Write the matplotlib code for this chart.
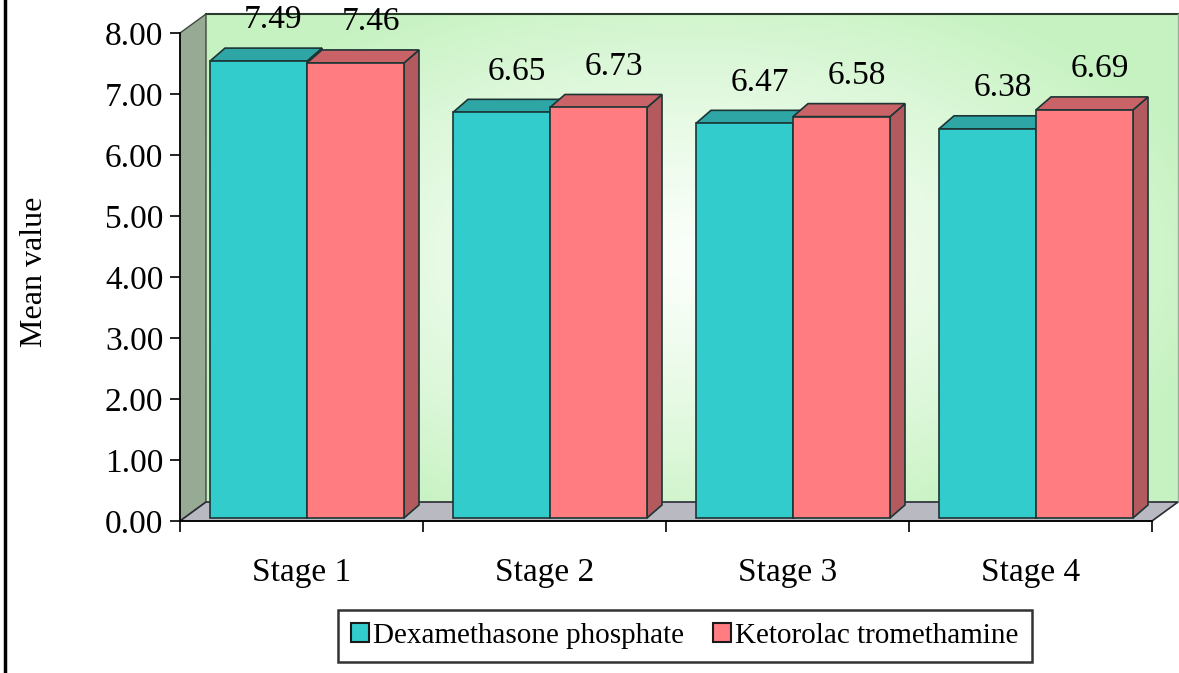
import numpy as np
import matplotlib.pyplot as plt
from matplotlib.patches import Polygon, Patch
from matplotlib.lines import Line2D

plt.rcParams['font.family'] = ['Liberation Serif', 'DejaVu Serif']

stages = ['Stage 1', 'Stage 2', 'Stage 3', 'Stage 4']
dexa = [7.49, 6.65, 6.47, 6.38]
keto = [7.46, 6.73, 6.58, 6.69]
series_names = ['Dexamethasone phosphate', 'Ketorolac tromethamine']
yticks = [0, 1, 2, 3, 4, 5, 6, 7, 8]

front = ['#33cccc', '#ff7c80']
side = ['#2a9898', '#b35a5e']
top = ['#2ea6a6', '#c96367']
edge = '#1c3535'

fig = plt.figure(figsize=(11.79, 6.73), dpi=100)
ax = fig.add_axes([180 / 1179, 1 - 521 / 673, 972 / 1179, 488 / 673])
ax.set_xlim(0, 4)
ax.set_ylim(0, 8)

# pixel -> data units
px = 4 / 972
py = 8 / 488
wdx, wdy = 26 * px, 19 * py
bdx, bdy = 15 * px, 13 * py
b0x, b0y = 3 * px, 3 * py

# back wall with soft green gradient
gx, gy = np.meshgrid(np.linspace(0, 1, 200), np.linspace(0, 1, 200))
t = np.clip(np.sqrt(((gx - 0.5) / 0.55) ** 2 + ((gy - 0.5) / 0.6) ** 2), 0, 1) ** 1.3
green = np.array([0.78, 0.95, 0.76])
white = np.array([0.98, 1.0, 0.98])
img = white * (1 - t[..., None]) + green * t[..., None]
ax.imshow(img, extent=[wdx, 4 + wdx, wdy, 8 + wdy], origin='lower', aspect='auto',
          clip_on=False, zorder=0.5)
ax.plot([wdx, 4 + wdx], [8 + wdy, 8 + wdy], color='#2a3a2a', lw=1.5, clip_on=False, zorder=0.6)
ax.plot([4 + wdx, 4 + wdx], [wdy, 8 + wdy], color='#9ab09a', lw=1, clip_on=False, zorder=0.6)

# left wall
ax.add_patch(Polygon([(0, 0), (wdx, wdy), (wdx, 8 + wdy), (0, 8)], closed=True,
                     facecolor='#97aa94', edgecolor='#3c4a3c', lw=1, clip_on=False, zorder=0.7))

# floor
ax.add_patch(Polygon([(0, 0), (4, 0), (4 + wdx, wdy), (wdx, wdy)], closed=True,
                     facecolor='#b9b9c2', edgecolor='#2a2a35', lw=1.2, clip_on=False, zorder=0.8))

bar_w = 97 / 243
for i in range(len(stages)):
    for j, vals in enumerate([dexa, keto]):
        x0 = i + 27 / 243 + j * bar_w + b0x
        x1 = x0 + bar_w
        y0 = b0y
        y1 = vals[i] + b0y
        ax.add_patch(Polygon([(x1, y0), (x1 + bdx, y0 + bdy), (x1 + bdx, y1 + bdy), (x1, y1)],
                             closed=True, facecolor=side[j], edgecolor=edge, lw=1.2,
                             clip_on=False, zorder=2))
        ax.add_patch(Polygon([(x0, y1), (x0 + bdx, y1 + bdy), (x1 + bdx, y1 + bdy), (x1, y1)],
                             closed=True, facecolor=top[j], edgecolor=edge, lw=1.2,
                             clip_on=False, zorder=2))
        ax.add_patch(Polygon([(x0, y0), (x1, y0), (x1, y1), (x0, y1)],
                             closed=True, facecolor=front[j], edgecolor=edge, lw=1.2,
                             clip_on=False, zorder=2))
        ax.text((x0 + x1) / 2 + bdx, vals[i] + 44 * py, '%.2f' % vals[i],
                ha='center', va='center', fontsize=24, zorder=3)

for s in ['top', 'right']:
    ax.spines[s].set_visible(False)
ax.spines['left'].set_linewidth(1.2)
ax.spines['bottom'].set_linewidth(1.2)
ax.spines['left'].set_zorder(1)
ax.spines['bottom'].set_zorder(1)

ax.set_yticks(yticks)
ax.set_yticklabels(['%.2f' % v for v in yticks], fontsize=24)
ax.set_xticks([0, 1, 2, 3, 4])
ax.set_xticklabels([])
ax.set_xticks([0.5, 1.5, 2.5, 3.5], minor=True)
ax.set_xticklabels(stages, minor=True, fontsize=24)
ax.tick_params(axis='x', which='major', direction='out', length=8, width=1.2)
ax.tick_params(axis='x', which='minor', length=0, pad=26)
ax.tick_params(axis='y', direction='out', length=7, width=1.2, pad=5)
ax.set_facecolor('none')

fig.text(35 / 1179, 1 - 272 / 673, 'Mean value', rotation=90, ha='center', va='center',
         fontsize=23)

handles = [Patch(facecolor=front[0], edgecolor='#1a1a1a', lw=1.5),
           Patch(facecolor=front[1], edgecolor='#1a1a1a', lw=1.5)]
leg = fig.legend(handles, series_names, loc='center', bbox_to_anchor=(685 / 1179, 1 - 636 / 673),
                 ncol=2, fontsize=21, frameon=True, fancybox=False, handlelength=0.6,
                 handleheight=0.6, handletextpad=0.15, columnspacing=1.0, borderpad=0.45)
leg.get_frame().set_edgecolor('black')
leg.get_frame().set_linewidth(1.8)

fig.add_artist(Line2D([5 / 1179, 5 / 1179], [0, 1], color='black', lw=2.5))

fig.savefig('out.png', dpi=100)
